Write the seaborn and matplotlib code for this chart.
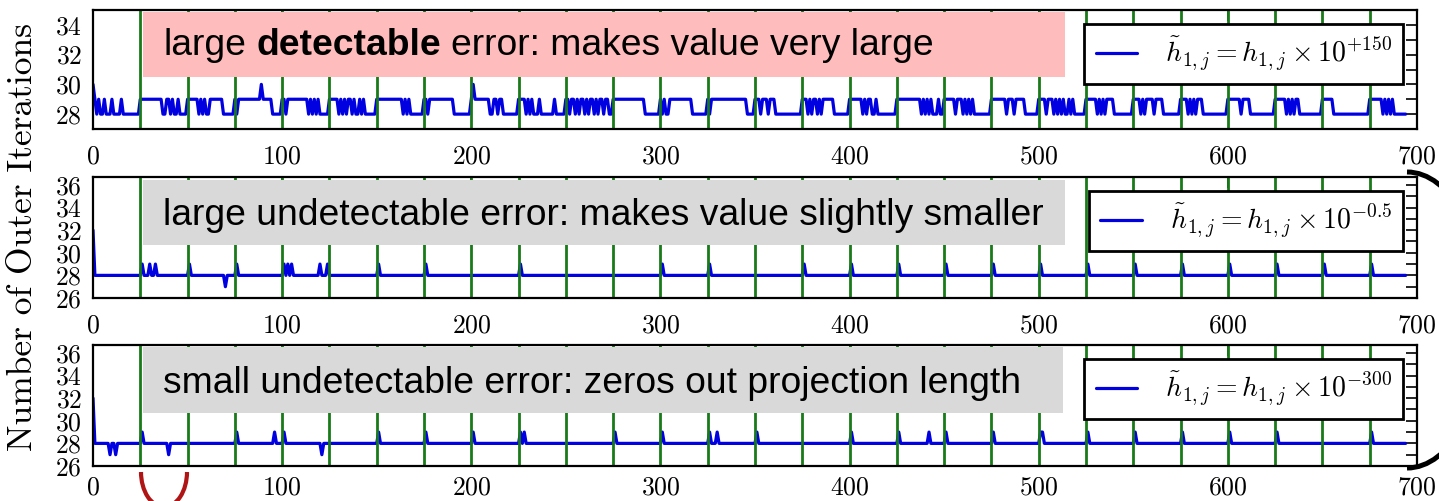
import numpy as np
import pandas as pd
import matplotlib
matplotlib.use("Agg")
import matplotlib.pyplot as plt
import seaborn as sns
from matplotlib.patches import Rectangle, Arc
from matplotlib.ticker import MultipleLocator

W, H = 1439, 501

# ---------------------------------------------------------------- data
n_solves = 695                      # solve index 0 .. 694
restart_marks = [25, 50, 75, 100, 125, 150, 175, 200, 225, 250, 275, 300, 325,
                 350, 375, 400, 425, 450, 475, 500, 525, 550, 575, 600, 625,
                 650, 675]
base_iters = 28
x_ticks = [0, 100, 200, 300, 400, 500, 600, 700]

# h~ = h * 10^+150 : outer iterations above 28, one string per restart cycle
detectable_cycles = [
    "2101001000100001000000000",
    "1111111111110011010010000",
    "1111110101001111111000000",
    "1011111111111121111100000",
    "1101111111111101010100000",
    "1111101010110100101000000",
    "1111111111111101010000000",
    "1101111111111111000000000",
    "1211111111001101100000000",
    "1111010100010000000100000",
    "1101101011010110101101100",
    "1111111111111111100000000",
    "1010011111111111100000000",
    "1011111111111111111110000",
    "1110111011100000000000000",
    "1110101101011111100000000",
    "1111111010110010000000000",
    "1111111111111010101000100",
    "1111110111010101000000000",
    "1111111101110111110000000",
    "1111011101010100101000000",
    "1111110101011110000000000",
    "1111010111101111000000000",
    "1111010101110000000000000",
    "1111111011110000000000000",
    "1111110101011000000000000",
    "1111110000000000000000000",
    "11111110101010000000",
]

# h~ = h * 10^-0.5 : iterations stay at 28 except at these solves
shrink_idx = [0, 26, 30, 33, 51, 70, 76, 101, 103, 105, 120, 124, 151, 176,
              226, 301, 326, 376, 401, 426, 451, 476, 501, 526, 551, 576, 601,
              626, 651, 676]
shrink_val = [32, 29, 29, 29, 29, 27, 29, 29, 29, 29, 29, 29, 29, 29,
              29, 29, 29, 29, 29, 29, 29, 29, 29, 29, 29, 29, 29,
              29, 29, 29]

# h~ = h * 10^-300 : iterations stay at 28 except at these solves
zero_idx = [0, 9, 12, 26, 40, 76, 96, 101, 121, 151, 176, 201, 226, 228, 276,
            301, 326, 330, 351, 401, 426, 442, 451, 476, 501, 502, 526, 551,
            576, 601, 626, 676]
zero_val = [32, 27, 27, 29, 27, 29, 29, 29, 27, 29, 29, 29, 29, 29, 29,
            29, 29, 29, 29, 29, 29, 29, 29, 29, 29, 29, 29, 29,
            29, 29, 29, 29]

legend_labels = [r"$\tilde{h}_{1,j} = h_{1,j} \times 10^{+150}$",
                 r"$\tilde{h}_{1,j} = h_{1,j} \times 10^{-0.5}$",
                 r"$\tilde{h}_{1,j} = h_{1,j} \times 10^{-300}$"]

notes = [
    [("large", "normal"), ("detectable", "bold"),
     ("error: makes value very large", "normal")],
    [("large undetectable error: makes value slightly smaller", "normal")],
    [("small undetectable error: zeros out projection length", "normal")],
]

# ------------------------------------------------------- build series
solve = np.arange(n_solves)
detect = np.array([base_iters + int(c) for s in detectable_cycles for c in s])
shrink = np.full(n_solves, base_iters)
shrink[shrink_idx] = shrink_val
zeroed = np.full(n_solves, base_iters)
zeroed[zero_idx] = zero_val

frames = [pd.DataFrame({"solve": solve, "iters": y})
          for y in (detect, shrink, zeroed)]

# ------------------------------------------------------------- style
sns.set_style("white")
plt.rcParams.update({
    "font.family": "cmr10",
    "mathtext.fontset": "cm",
    "axes.formatter.use_mathtext": True,
    "axes.linewidth": 1.6,
    "axes.edgecolor": "black",
    "text.color": "black",
    "axes.labelcolor": "black",
    "xtick.color": "black",
    "ytick.color": "black",
})

BLUE = "#0000e0"
GREEN = "#187a18"

fig = plt.figure(figsize=(W / 100, H / 100), dpi=100)

# pixel layout of the three stacked panels (top, bottom, x-label pad)
rows = [(10, 129, 11), (177, 298, 11), (345, 466, 7)]
ylims = [(27, 35), (26, 36.7), (26, 36.7)]
left_px, right_px = 93, 1417

axes = []
for (top, bot, xpad), ylim, df, lab in zip(rows, ylims, frames, legend_labels):
    ax = fig.add_axes([left_px / W, 1 - bot / H,
                       (right_px - left_px) / W, (bot - top) / H])
    sns.lineplot(data=df, x="solve", y="iters", ax=ax, color=BLUE,
                 linewidth=2.3, label=lab, estimator=None, zorder=2)
    for m in restart_marks:
        ax.axvline(m, color=GREEN, linewidth=2.0, zorder=2.2)
    ax.set_xlim(0, 700)
    ax.set_ylim(*ylim)
    ax.set_xticks(x_ticks)
    ax.yaxis.set_major_locator(MultipleLocator(2))
    ax.yaxis.set_minor_locator(MultipleLocator(1))
    ax.tick_params(which="both", direction="in", top=True, right=True,
                   length=8, width=1.2, labelsize=18.5, color="black")
    ax.tick_params(axis="x", pad=xpad)
    ax.tick_params(axis="y", pad=8)
    ax.set_xlabel("")
    ax.set_ylabel("")
    for sp in ax.spines.values():
        sp.set_linewidth(1.6)
        sp.set_zorder(3)
    leg = ax.legend(loc="upper right", fontsize=20, frameon=True,
                    fancybox=False, framealpha=1, edgecolor="black",
                    handlelength=1.5, handletextpad=1.0, borderpad=0.4,
                    borderaxespad=0.5)
    leg.get_frame().set_linewidth(2.0)
    leg.set_zorder(5)
    axes.append(ax)

fig.text(23 / W, 1 - 237 / H, "Number of Outer Iterations", rotation=90,
         fontsize=25.5, family="cmr10", ha="center", va="center")

# highlighted captions over each panel
boxes = [(143, 12, 1065, 77, "#ffbcbc", 55),
         (143, 180, 1065, 245, "#d9d9d9", 225),
         (143, 347, 1063, 413, "#d9d9d9", 393)]
note_size = 26.8
renderer = fig.canvas.get_renderer()
for (x0, y0, x1, y1, col, base), pieces in zip(boxes, notes):
    fig.add_artist(Rectangle((x0 / W, 1 - y1 / H), (x1 - x0) / W,
                             (y1 - y0) / H, transform=fig.transFigure,
                             facecolor=col, edgecolor="none", zorder=3))
    xpos = 163
    for txt, weight in pieces:
        t = fig.text(xpos / W, 1 - base / H, txt, fontsize=note_size,
                     family="Liberation Sans", weight=weight, color="black",
                     ha="left", va="baseline", zorder=4)
        bb = t.get_window_extent(renderer)
        xpos = bb.x1 + 0.278 * note_size * 100 / 72

# brackets drawn around the panels
fig.add_artist(Arc((1407 / W, 1 - 320 / H), 160 / W, 296 / H,
                   theta1=-90, theta2=90, transform=fig.transFigure,
                   color="black", linewidth=3.6, zorder=6))
fig.add_artist(Arc((164 / W, 1 - 472 / H), 46 / W, 70 / H,
                   theta1=180, theta2=360, transform=fig.transFigure,
                   color="#b01515", linewidth=3.0, zorder=6))

fig.savefig("out.png", dpi=100)
